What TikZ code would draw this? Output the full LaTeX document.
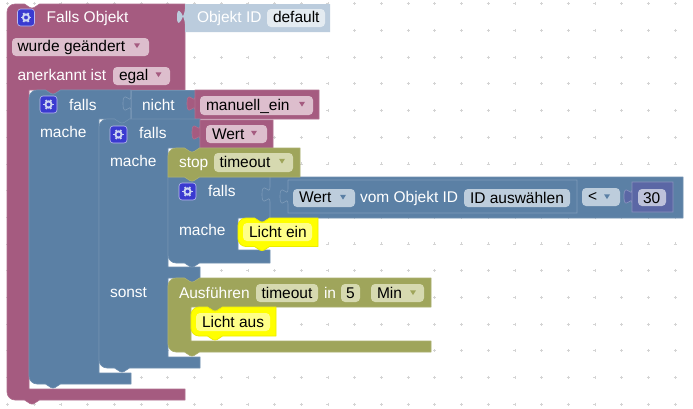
\documentclass[tikz,border=0pt]{standalone}
\usepackage{fontspec}
\setmainfont{Liberation Sans}
\definecolor{mag}{HTML}{A55B80}
\definecolor{magf}{HTML}{DDBECD}
\definecolor{blu}{HTML}{5B80A5}
\definecolor{bluf}{HTML}{BDCDDC}
\definecolor{oli}{HTML}{9FA55B}
\definecolor{olif}{HTML}{D6D9B0}
\definecolor{ind}{HTML}{5B67A5}
\definecolor{indf}{HTML}{BDC2DB}
\definecolor{shd}{HTML}{BBCCDD}
\definecolor{shdf}{HTML}{E4EBF1}
\definecolor{yel}{HTML}{FFFF00}
\definecolor{yelf}{HTML}{FFFF88}
\definecolor{gearbg}{HTML}{3A3AD0}
\definecolor{gearfg}{HTML}{CDD5F2}
\tikzset{
  wt/.style={anchor=base west,inner sep=0pt,outer sep=0pt,text=white,font=\fontsize{15.5}{18}\selectfont},
  bt/.style={wt,text=black},
  blk/.style={fill=#1,draw=#1!88!white,line width=.6pt,line join=round},
  yblk/.style={fill=yel,draw=yel!93!black,line width=.8pt,line join=round},
  seam/.style={draw=#1!78!white,line width=.6pt},
  fld/.style={fill=#1,rounded corners=4pt,draw=none},
  tri/.style={fill=#1,draw=none},
  gearpic/.pic={
    \fill[gearbg,draw=white!65!gearbg,line width=.6pt,rounded corners=3pt] (-8.5,-8.5) rectangle (8.5,8.5);
    \foreach \a in {0,60,...,300}{\draw[gearfg,line width=1.8pt] (\a:3) -- (\a:5.2);}
    \draw[gearfg,line width=1.9pt] (0,0) circle (3.1);
  }
}
% notch cut going right along a top edge / tab going left along a bottom edge
\def\nr#1#2{-- (#1-7.5,#2) -- (#1-2,#2+3.6) .. controls (#1-1,#2+4.2) and (#1+1,#2+4.2) .. (#1+2,#2+3.6) -- (#1+7.5,#2) }
\def\nl#1#2{-- (#1+7.5,#2) -- (#1+2,#2+3.6) .. controls (#1+1,#2+4.2) and (#1-1,#2+4.2) .. (#1-2,#2+3.6) -- (#1-7.5,#2) }
% puzzle tab on a left edge, going downwards from (x,y)
\def\tabd#1#2{.. controls (#1,#2+10) and (#1-8,#2-8) .. (#1-8,#2+7.5) .. controls (#1-8,#2+23) and (#1,#2+5) .. (#1,#2+15) }
\def\drop#1#2#3{\fill[tri=#3] (#1-3,#2-2.2) -- (#1+3,#2-2.2) -- (#1,#2+2.6) -- cycle;}
\begin{document}
\begin{tikzpicture}[x=1pt,y=-1pt]
\useasboundingbox (0,0) rectangle (693,408);
\fill[white] (0,0) rectangle (693,408);
% workspace grid
\foreach \i in {0,...,25}{\foreach \j in {0,...,15}{
  \pgfmathsetmacro{\gx}{7.5+26.7*\i}\pgfmathsetmacro{\gy}{3.6+26.7*\j}
  \draw[black!17,line width=.6pt] (\gx-1.5,\gy) -- (\gx+1.5,\gy) (\gx,\gy-1.5) -- (\gx,\gy+1.5);
}}
% outer magenta block
\path[blk=mag] (15,4) \nr{32}{4} -- (185,4) -- (185,90) \nl{53}{90} -- (29,90) -- (29,389) -- (185,389) -- (185,400) \nl{32}{400} -- (15,400) .. controls (10.6,400) and (7,396.4) .. (7,392) -- (7,12) .. controls (7,7.6) and (10.6,4) .. (15,4) -- cycle;
% Objekt ID shadow block
\path[fill=shd] (185,4) -- (330,4) -- (330,32) -- (185,32) -- (185,24) .. controls (185,18) and (177,2) .. (177,17) .. controls (177,32) and (185,14) .. (185,9) -- cycle;
% first if block
\path[blk=blu] (37,90) \nr{53}{90} -- (131,90) -- (131,119) \nl{122}{119} -- (99,119) -- (99,373) -- (131,373) -- (131,384) \nl{53}{384} -- (37,384) .. controls (32.6,384) and (29,380.4) .. (29,376) -- (29,98) .. controls (29,93.6) and (32.6,90) .. (37,90) -- cycle;
% nicht block
\path[blk=blu] (131,90) -- (195,90) -- (195,119) -- (131,119) -- cycle;
\draw[seam=blu] (131,90) -- (131,96) \tabd{131}{96} -- (131,119);
% manuell_ein
\path[blk=mag] (195,90) -- (319,90) -- (319,119) -- (195,119) -- (195,96) \tabd{195}{96} -- cycle;
% second if block
\path[blk=blu] (107,119) \nr{122}{119} -- (200,119) -- (200,148) \nl{192}{148} -- (168,148) -- (168,267) -- (200,267) -- (200,278) \nl{192}{278} -- (168,278) -- (168,357) -- (200,357) -- (200,368) \nl{122}{368} -- (107,368) .. controls (102.6,368) and (99,364.4) .. (99,360) -- (99,127) .. controls (99,122.6) and (102.6,119) .. (107,119) -- cycle;
% Wert variable
\path[blk=mag] (200,120) -- (273,120) -- (273,148) -- (200,148) -- (200,125) \tabd{200}{125} -- cycle;
% third if block with comparison
\path[blk=blu] (168,177) \nr{192}{177} -- (683,177) -- (683,218) -- (270,218) \nl{262}{218} -- (238,218) -- (238,250) -- (270,250) -- (270,263) \nl{192}{263} -- (176,263) .. controls (171.6,263) and (168,259.4) .. (168,255) -- cycle;
\draw[seam=blu] (270,177) -- (270,187) \tabd{270}{187} -- (270,218);
\draw[seam=blu] (288,180) -- (577,180) -- (577,213) -- (288,213) -- (288,204) (288,180) -- (288,189) \tabd{288}{189};
% stop block
\path[blk=oli] (176,148) \nr{192}{148} -- (300,148) -- (300,177) \nl{192}{177} -- (168,177) -- (168,156) .. controls (168,151.6) and (171.6,148) .. (176,148) -- cycle;
% 30 block
\path[fill=ind,draw=ind!72!white,line width=.7pt] (632,182) -- (673,182) -- (673,212) -- (632,212) -- (632,204) -- (632,189) \tabd{632}{189} -- cycle;
% Licht ein
\path[yblk] (246,218) \nr{262}{218} -- (318,218) -- (318,246.5) \nl{262}{246.5} -- (246,246.5) .. controls (241.6,246.5) and (238,242.9) .. (238,238.5) -- (238,226) .. controls (238,221.6) and (241.6,218) .. (246,218) -- cycle;
% Ausfuehren block
\path[blk=oli] (176,278) \nr{192}{278} -- (431,278) -- (431,307) \nl{215}{307} -- (191,307) -- (191,341) -- (431,341) -- (431,352) \nl{192}{352} -- (176,352) .. controls (171.6,352) and (168,348.4) .. (168,344) -- (168,286) .. controls (168,281.6) and (171.6,278) .. (176,278) -- cycle;
% Licht aus
\path[yblk] (199,307) \nr{215}{307} -- (276,307) -- (276,336) \nl{215}{336} -- (199,336) .. controls (194.6,336) and (191,332.4) .. (191,328) -- (191,315) .. controls (191,310.6) and (194.6,307) .. (199,307) -- cycle;
% fields
\path[fld=shdf] (267,9) rectangle (325,27);
\path[fld=magf] (12,38) rectangle (149,56);
\path[fld=magf] (113,67) rectangle (170,85);
\path[fld=magf] (200,96) rectangle (313,115);
\path[fld=magf] (206,125) rectangle (267,143);
\path[fld=olif] (214,153) rectangle (293,172);
\path[fld=bluf] (293,189) rectangle (355,207);
\path[fld=bluf] (464,189) rectangle (570,207);
\path[fld=bluf] (582,188) rectangle (620,206);
\path[fld=indf] (638,189) rectangle (666,206);
\path[fld=yelf] (243,223) rectangle (312,241);
\path[fld=olif] (256,284) rectangle (318,302);
\path[fld=olif] (341,284) rectangle (360,302);
\path[fld=olif] (371,284) rectangle (424,302);
\path[fld=yelf] (196,313) rectangle (270,331);
% dropdown arrows
\drop{137}{45.5}{mag}
\drop{158.5}{74.5}{mag}
\drop{302}{104}{mag}
\drop{254}{133}{mag}
\drop{282}{161}{oli}
\drop{343}{197}{blu}
\drop{607}{196.5}{blu}
\drop{413}{292.5}{oli}
% gears
\pic at (26,17.5) {gearpic};
\pic at (48.5,104.5) {gearpic};
\pic at (118.5,134.5) {gearpic};
\pic at (187.5,191.5) {gearpic};
% labels
\node[wt] (a1) at (46.7,22.7) {Falls Objekt};
\node[wt,text=white] (a2) at (197,22.7) {Objekt ID};
\node[bt] (a3) at (273,22.7) {default};
\node[bt] (a4) at (17.5,51.7) {wurde geändert};
\node[wt] (a5) at (17.5,80.5) {anerkannt ist};
\node[bt] (a6) at (119,80.5) {egal};
\node[wt] (b1) at (69,110) {falls};
\node[wt] (b2) at (142,110) {nicht};
\node[bt] (b3) at (206,110) {manuell\_ein};
\node[wt] (b4) at (40,137.5) {mache};
\node[wt] (c1) at (139,138.5) {falls};
\node[bt] (c2) at (212,139) {Wert};
\node[wt] (c3) at (110,166) {mache};
\node[wt] (d1) at (179,167) {stop};
\node[bt] (d2) at (219.5,167) {timeout};
\node[wt] (e1) at (208,196) {falls};
\node[bt] (e2) at (299,202.5) {Wert};
\node[wt] (e3) at (360,202.5) {vom Objekt ID};
\node[bt] (e4) at (470,203) {ID auswählen};
\node[bt] (e5) at (588,201.5) {<};
\node[bt] (e6) at (643,203) {30};
\node[wt] (e7) at (179,235.5) {mache};
\node[bt] (e8) at (249,237) {Licht ein};
\node[wt] (f1) at (110,297) {sonst};
\node[wt] (f2) at (179,298) {Ausführen};
\node[bt] (f3) at (261.5,298) {timeout};
\node[wt] (f4) at (324,298) {in};
\node[bt] (f5) at (346,298) {5};
\node[bt] (f6) at (377,298) {Min};
\node[bt] (f7) at (202,327) {Licht aus};
\end{tikzpicture}
\end{document}
